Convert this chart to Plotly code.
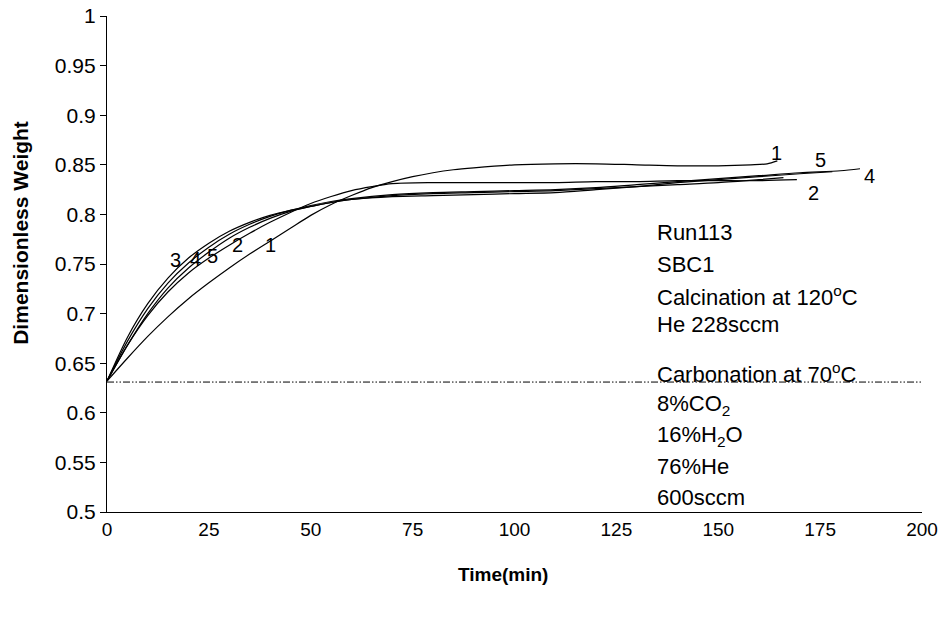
import plotly.graph_objects as go

# ---- data ----
t1 = [0, 5, 10, 15, 20, 25, 30, 35, 40, 45, 50, 55, 60, 65, 70, 75, 80, 85, 90, 100, 110, 120, 130, 140, 150, 158, 162, 164.5]
w1 = [0.632, 0.655, 0.677, 0.697, 0.715, 0.731, 0.746, 0.760, 0.773, 0.786, 0.799, 0.810, 0.819, 0.827, 0.833, 0.838, 0.842, 0.845, 0.847, 0.850, 0.851, 0.851, 0.850, 0.849, 0.849, 0.850, 0.851, 0.854]

t2 = [0, 5, 10, 15, 20, 25, 30, 35, 40, 45, 50, 55, 60, 65, 70, 80, 90, 100, 110, 120, 130, 140, 150, 160, 169.3]
w2 = [0.632, 0.668, 0.698, 0.722, 0.741, 0.756, 0.769, 0.781, 0.792, 0.802, 0.811, 0.818, 0.824, 0.828, 0.831, 0.832, 0.832, 0.832, 0.832, 0.833, 0.833, 0.834, 0.834, 0.834, 0.835]

t3 = [0, 5, 10, 15, 20, 25, 30, 35, 40, 45, 50, 55, 60, 70, 80, 90, 100, 110, 120, 130, 140, 150, 160, 166]
w3 = [0.632, 0.676, 0.710, 0.736, 0.756, 0.771, 0.783, 0.792, 0.799, 0.804, 0.808, 0.812, 0.815, 0.819, 0.821, 0.822, 0.823, 0.824, 0.826, 0.828, 0.830, 0.832, 0.835, 0.837]

t4 = [0, 5, 10, 15, 20, 25, 30, 35, 40, 45, 50, 55, 60, 70, 80, 90, 100, 110, 120, 130, 140, 150, 160, 170, 180, 184.8]
w4 = [0.632, 0.672, 0.705, 0.731, 0.751, 0.767, 0.780, 0.790, 0.798, 0.804, 0.809, 0.813, 0.816, 0.820, 0.822, 0.823, 0.824, 0.825, 0.827, 0.830, 0.833, 0.836, 0.839, 0.842, 0.844, 0.846]

t5 = [0, 5, 10, 15, 20, 25, 30, 35, 40, 45, 50, 55, 60, 70, 80, 90, 100, 110, 120, 130, 140, 150, 160, 170, 178]
w5 = [0.632, 0.668, 0.700, 0.726, 0.746, 0.762, 0.776, 0.787, 0.796, 0.803, 0.808, 0.812, 0.815, 0.818, 0.819, 0.820, 0.821, 0.822, 0.825, 0.828, 0.832, 0.835, 0.838, 0.841, 0.843]

baseline_t = [0, 200]
baseline_w = [0.631, 0.631]

curves = [("1", t1, w1), ("2", t2, w2), ("3", t3, w3), ("4", t4, w4), ("5", t5, w5)]

# curve labels (text, time, weight)
curve_labels = [
    ("3", 16.9, 0.754), ("4", 21.8, 0.755), ("5", 26.0, 0.758), ("2", 32.1, 0.769), ("1", 40.0, 0.769),
    ("1", 164.4, 0.862), ("5", 175.0, 0.855), ("4", 187.2, 0.839), ("2", 173.3, 0.822),
]

# annotation block (text, weight position)
notes = [
    ("Run113", 0.782),
    ("SBC1", 0.750),
    ("Calcination at 120<sup>o</sup>C", 0.718),
    ("He 228sccm", 0.689),
    ("Carbonation at 70<sup>o</sup>C", 0.640),
    ("8%CO<sub>2</sub>", 0.608),
    ("16%H<sub>2</sub>O", 0.577),
    ("76%He", 0.546),
    ("600sccm", 0.515),
]
note_x = 134.5

x_ticks = [0, 25, 50, 75, 100, 125, 150, 175, 200]
y_ticks = [0.5, 0.55, 0.6, 0.65, 0.7, 0.75, 0.8, 0.85, 0.9, 0.95, 1.0]
y_ticktext = ["0.5", "0.55", "0.6", "0.65", "0.7", "0.75", "0.8", "0.85", "0.9", "0.95", "1"]

x_title = "Time(min)"
y_title = "Dimensionless Weight"

FONT = "Liberation Sans, Arial, sans-serif"

fig = go.Figure()

fig.add_trace(go.Scatter(
    x=baseline_t, y=baseline_w, mode="lines",
    line=dict(color="black", width=1, dash="7px,2px,1.5px,2px,1.5px,2px"),
    hoverinfo="skip", showlegend=False))

for name, t, w in curves:
    fig.add_trace(go.Scatter(
        x=t, y=w, mode="lines", name=name,
        line=dict(color="black", width=1.2, shape="spline", smoothing=0.8),
        showlegend=False))

for txt, x, y in curve_labels:
    fig.add_annotation(x=x, y=y, text=txt, showarrow=False,
                       font=dict(family=FONT, size=20, color="black"))

for txt, y in notes:
    fig.add_annotation(x=note_x, y=y, text=txt, showarrow=False, xanchor="left", yanchor="middle",
                       font=dict(family=FONT, size=22, color="black"))

# axis titles placed as paper annotations
fig.add_annotation(xref="paper", yref="paper", x=0.486, y=-0.125, text="<b>" + x_title + "</b>",
                   xanchor="center", yanchor="middle",
                   showarrow=False, font=dict(family=FONT, size=19, color="black"))
fig.add_annotation(xref="paper", yref="paper", x=-0.107, y=0.5625, text="<b>" + y_title + "</b>",
                   xanchor="center", yanchor="middle",
                   textangle=-90, showarrow=False, font=dict(family=FONT, size=21, color="black"))

# page body has an 8px offset, margins compensate so the plot area sits at 107..922 x 16..512
fig.update_layout(
    width=948, height=617,
    margin=dict(l=99, r=34, t=8, b=113, autoexpand=False),
    paper_bgcolor="white", plot_bgcolor="white",
    font=dict(family=FONT, size=20, color="black"),
    showlegend=False,
)

fig.update_xaxes(
    range=[0, 200], tickvals=x_ticks, ticks="", showgrid=False, zeroline=False,
    showline=True, linecolor="black", linewidth=1.2, automargin=False,
    tickfont=dict(family=FONT, size=19, color="black"),
    ticklabeloverflow="allow",
)
fig.update_yaxes(
    range=[0.5, 1.0], tickvals=y_ticks, ticktext=y_ticktext, ticks="outside", ticklen=6,
    tickcolor="black", showgrid=False, zeroline=False,
    showline=True, linecolor="black", linewidth=1.2, automargin=False,
    tickfont=dict(family=FONT, size=21, color="black"),
    ticklabeloverflow="allow",
)

fig.write_html("out.html")
